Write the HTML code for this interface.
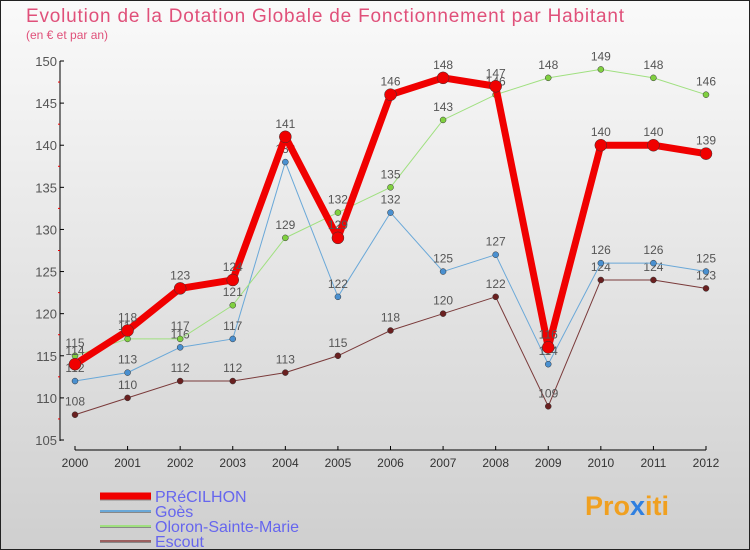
<!DOCTYPE html>
<html><head><meta charset="utf-8"><style>
body{margin:0}
svg{display:block;font-family:"Liberation Sans",sans-serif}
</style></head><body>
<svg width="750" height="550" viewBox="0 0 750 550">
<defs><linearGradient id="bg" x1="0" y1="0" x2="0" y2="1"><stop offset="0" stop-color="#fafafa"/><stop offset="1" stop-color="#cfcfcf"/></linearGradient></defs>
<rect x="0.5" y="0.5" width="749" height="549" fill="url(#bg)" stroke="#222"/>
<text x="26" y="22" font-size="19" fill="#e0507a" textLength="598">Evolution de la Dotation Globale de Fonctionnement par Habitant</text>
<text x="26" y="39" font-size="12" fill="#e0507a">(en € et par an)</text>
<g id="axes"></g>
<g id="series"></g>
<g id="legend"></g>
<text x="585" y="515" font-size="27" font-weight="bold"><tspan fill="#f0a020">Pro</tspan><tspan fill="#3080e0">x</tspan><tspan fill="#f0a020">iti</tspan></text>
</svg>
<script>
const years=[2000,2001,2002,2003,2004,2005,2006,2007,2008,2009,2010,2011,2012];
const yTicks=[105,110,115,120,125,130,135,140,145,150];
const precilhon=[114,118,123,124,141,129,146,148,147,116,140,140,139];
const goes=[112,113,116,117,138,122,132,125,127,114,126,126,125];
const oloron=[115,117,117,121,129,132,135,143,146,148,149,148,146];
const escout=[108,110,112,112,113,115,118,120,122,109,124,124,123];
const NS='http://www.w3.org/2000/svg';
const X=i=>75+i*(631/12);
const Y=v=>61+(150-v)*(379/45);
function mk(t,a,p){const e=document.createElementNS(NS,t);for(const k in a)e.setAttribute(k,a[k]);p.appendChild(e);return e;}
const ax=document.getElementById('axes');
mk('line',{x1:60,y1:61,x2:60,y2:441,stroke:'#000'},ax);
mk('line',{x1:75,y1:450,x2:706,y2:450,stroke:'#000'},ax);
yTicks.forEach(v=>{
 mk('line',{x1:60,y1:Y(v),x2:64,y2:Y(v),stroke:'#000'},ax);
 const t=mk('text',{x:57,y:Y(v)+5,'text-anchor':'end','font-size':13,fill:'#555'},ax);t.textContent=v;
 
 
 if(v<150){mk('line',{x1:58,y1:Y(v+2.5),x2:60,y2:Y(v+2.5),stroke:'#e00'},ax);}
});
years.forEach((y,i)=>{
 mk('line',{x1:X(i),y1:446,x2:X(i),y2:450,stroke:'#000'},ax);
 const t=mk('text',{x:X(i),y:467,'text-anchor':'middle','font-size':12,fill:'#333'},ax);t.textContent=y;
 
 
});
const sg=document.getElementById('series');
function draw(data,color,w,r,dot,name){
 const g=mk('g',{},sg);
 
 
 mk('polyline',{points:data.map((v,i)=>X(i)+','+Y(v)).join(' '),fill:'none',stroke:color,'stroke-width':w,'stroke-linejoin':'round'},g);
 data.forEach((v,i)=>{
  const c=mk('circle',{cx:X(i),cy:Y(v),r:r,fill:dot,stroke:'#333','stroke-width':0.5},g);
  
  
  const t=mk('text',{x:X(i),y:Y(v)-9,'text-anchor':'middle','font-size':12,fill:'#555'},g);t.textContent=v;
  
  
 });
}
draw(escout,'#7a3a3a',1,3,'#6a2020','escout');
draw(goes,'#6aa8d8',1,3,'#4a90d0','goes');
draw(oloron,'#a0e080',1,3,'#80d040','oloron');
draw(precilhon,'#f00000',7,6,'#f00000','precilhon');
const lg=document.getElementById('legend');
const items=[['PRéCILHON','#f00000',7],['Goès','#6aa8d8',2],['Oloron-Sainte-Marie','#a0e080',2],['Escout','#9a6060',2]];
items.forEach((it,k)=>{
 const y=493+k*15;
 const g=mk('g',{},lg);
 
 
 mk('line',{x1:100,y1:y+4,x2:151,y2:y+4,stroke:'#888','stroke-width':it[2]},g);
 mk('line',{x1:100,y1:y+3,x2:151,y2:y+3,stroke:it[1],'stroke-width':it[2]},g);
 const t=mk('text',{x:155,y:y+9,'font-size':16,fill:'#6666ee'},g);t.textContent=it[0];
});
</script>
</body></html>
